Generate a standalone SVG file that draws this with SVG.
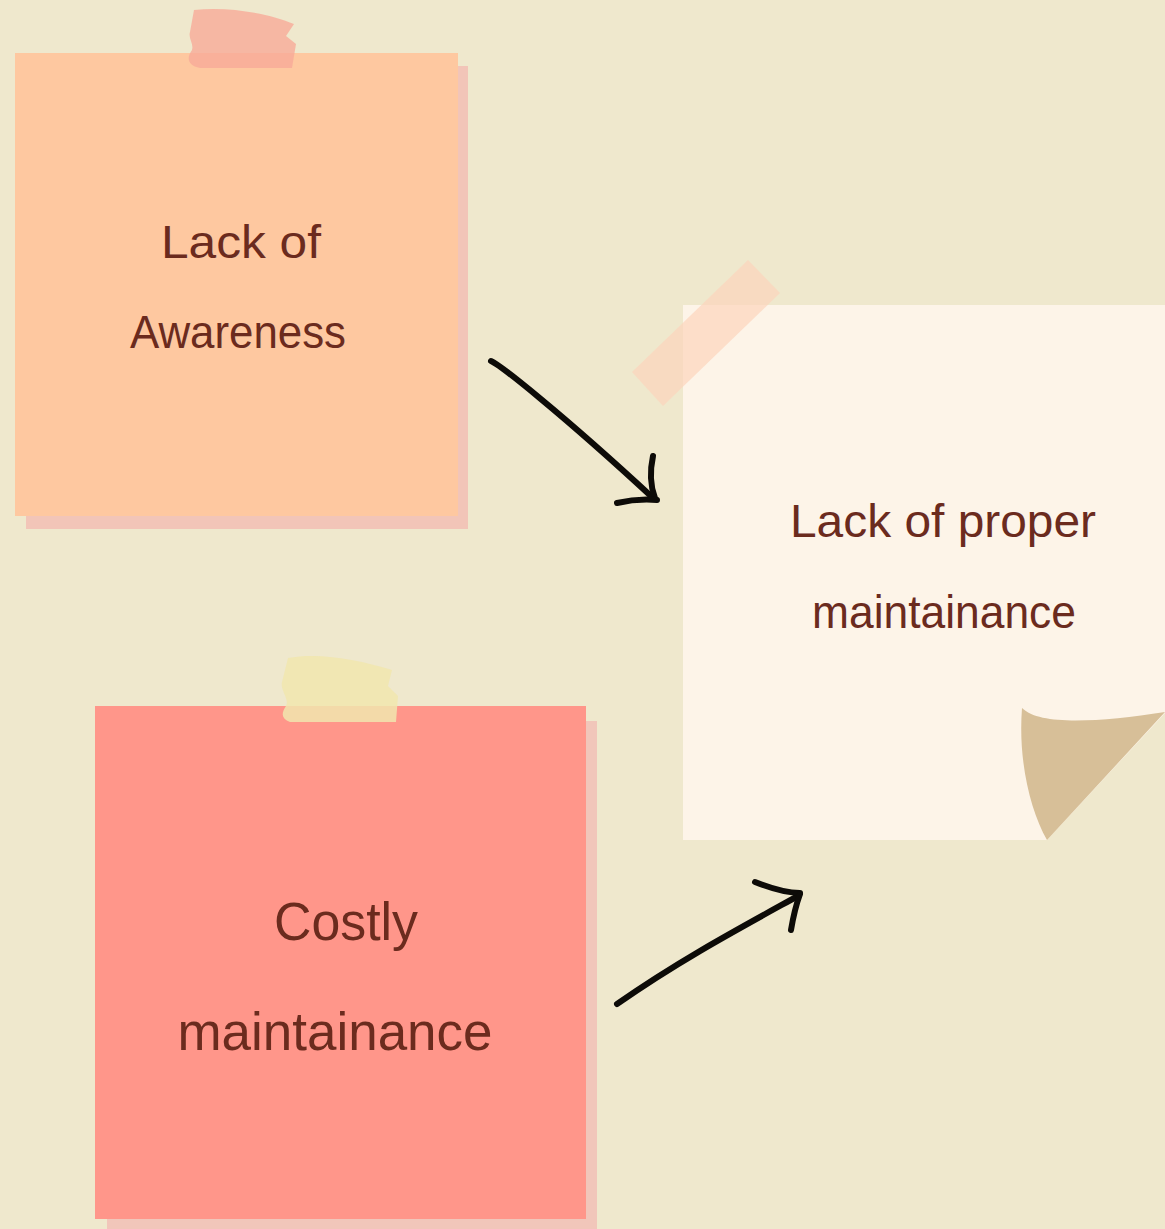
<svg xmlns="http://www.w3.org/2000/svg" width="1165" height="1229" viewBox="0 0 1165 1229">
<style>
.txt{font-family:"Liberation Sans","DejaVu Sans",sans-serif;fill:#6b2b1e;text-anchor:middle;}
.arrow{fill:none;stroke:#0d0b08;stroke-width:6;stroke-linecap:round;stroke-linejoin:round;}
</style>
<rect x="0" y="0" width="1165" height="1229" fill="#efe8cd"/>
<g id="node-awareness">
<rect x="26" y="66" width="442" height="463" fill="#f2c5b8"/>
<rect x="15" y="53" width="443" height="463" fill="#fec8a0"/>
<path d="M194,10 C230,6 270,14 294,24 L286,36 L296,44 L292,68 L200,68 C188,66 186,58 192,50 C194,44 188,38 190,32 Z" fill="#f8aa98" opacity="0.8"/>
<text class="txt" x="241" y="258" font-size="46" textLength="160" lengthAdjust="spacingAndGlyphs">Lack of</text>
<text class="txt" x="238" y="348" font-size="46" textLength="216" lengthAdjust="spacingAndGlyphs">Awareness</text>
</g>
<g id="node-maintenance">
<path d="M683,305 H1165 V713 L1047,840 H683 Z" fill="#fdf4e8"/>
<path d="M1022,708 C1040,726 1100,722 1165,712 L1047,840 C1030,810 1018,760 1022,708 Z" fill="#d7bf98"/>
<path d="M748,260 L780,293 L663,406 L632,372 Z" fill="#fcd4bc" opacity="0.7"/>
<text class="txt" x="943" y="537" font-size="46" textLength="306" lengthAdjust="spacingAndGlyphs">Lack of proper</text>
<text class="txt" x="944" y="628" font-size="46" textLength="264" lengthAdjust="spacingAndGlyphs">maintainance</text>
</g>
<g id="node-costly">
<rect x="107" y="721" width="490" height="508" fill="#f1c6ba"/>
<rect x="95" y="706" width="491" height="513" fill="#ff968a"/>
<path d="M288,658 C320,652 360,660 392,670 L388,686 L398,696 L396,722 L290,722 C280,718 282,712 286,706 C290,700 280,690 282,682 Z" fill="#f1e6ae" opacity="0.85"/>
<text class="txt" x="346" y="940" font-size="54" textLength="144" lengthAdjust="spacingAndGlyphs">Costly</text>
<text class="txt" x="335" y="1050" font-size="54" textLength="315" lengthAdjust="spacingAndGlyphs">maintainance</text>
</g>
<g id="connectors">
<path class="arrow" d="M491,361 C500,365 560,412 652,497"/>
<path class="arrow" d="M653,456 C650,470 650,485 655,498"/>
<path class="arrow" d="M617,503 C630,500 645,499 657,500"/>
<path class="arrow" d="M617,1004 C680,960 740,928 798,896"/>
<path class="arrow" d="M755,882 C770,888 785,893 800,893"/>
<path class="arrow" d="M800,894 C796,905 793,918 791,930"/>
</g>
</svg>
